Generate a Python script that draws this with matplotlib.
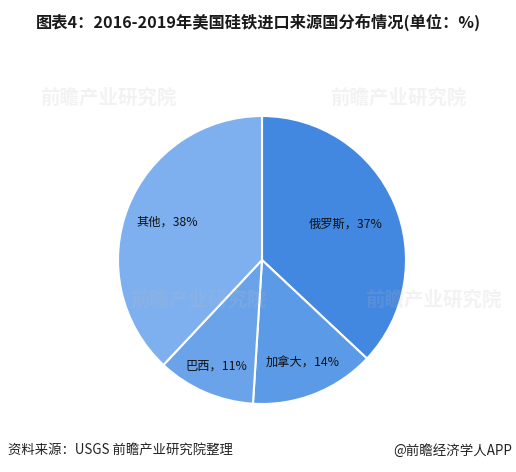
import matplotlib
matplotlib.use("Agg")
import matplotlib.pyplot as plt
import numpy as np

plt.rcParams['font.family'] = ['Noto Sans CJK SC', 'DejaVu Sans']

categories = ['俄罗斯', '加拿大', '巴西', '其他']
values = [37, 14, 11, 38]
colors = ['#4287e0', '#5b9ae6', '#6aa3ea', '#7eb0ef']
label_dist = [0.63, 0.77, 0.80, 0.71]

title = '图表4：2016-2019年美国硅铁进口来源国分布情况(单位：%)'
source = '资料来源：USGS 前瞻产业研究院整理'
credit = '@前瞻经济学人APP'

fig = plt.figure(figsize=(5.16, 4.72), dpi=100)
fig.patch.set_facecolor('white')

cx, cy, r = 262, 260, 144
W, H = 516, 472
ax = fig.add_axes([(cx - r) / W, 1 - (cy + r) / H, 2 * r / W, 2 * r / H])
labels = [f'{c}，{v}%' for c, v in zip(categories, values)]
wedges, texts = ax.pie(values, colors=colors, startangle=90, counterclock=False,
                       labels=labels, labeldistance=0.63,
                       wedgeprops=dict(edgecolor='white', linewidth=1.5),
                       textprops=dict(fontsize=8.8, color='#111111'))
for w, t, d in zip(wedges, texts, label_dist):
    ang = np.deg2rad((w.theta1 + w.theta2) / 2)
    t.set_position((d * np.cos(ang), d * np.sin(ang)))
    t.set_ha('center')
    t.set_va('center')
ax.set_aspect('equal')
ax.set_xlim(-1, 1)
ax.set_ylim(-1, 1)
ax.axis('off')

fig.text(0.5, 1 - 22 / H, title, ha='center', va='center', fontsize=11.7,
         fontweight='bold', color='#1a1a1a')
fig.text(8 / W, 1 - 451 / H, source, ha='left', va='center', fontsize=9.6, color='#222222')
fig.text(512 / W, 1 - 451 / H, credit, ha='right', va='center', fontsize=9.7, color='#222222')

# very faint watermarks
for (x, y) in [(40, 98), (330, 98), (130, 300), (365, 300)]:
    fig.text(x / W, 1 - y / H, '前瞻产业研究院', fontsize=14, fontweight='bold',
             color='#bbbbbb', alpha=0.18, ha='left', va='center')

fig.savefig('out.png', dpi=100, facecolor='white')
